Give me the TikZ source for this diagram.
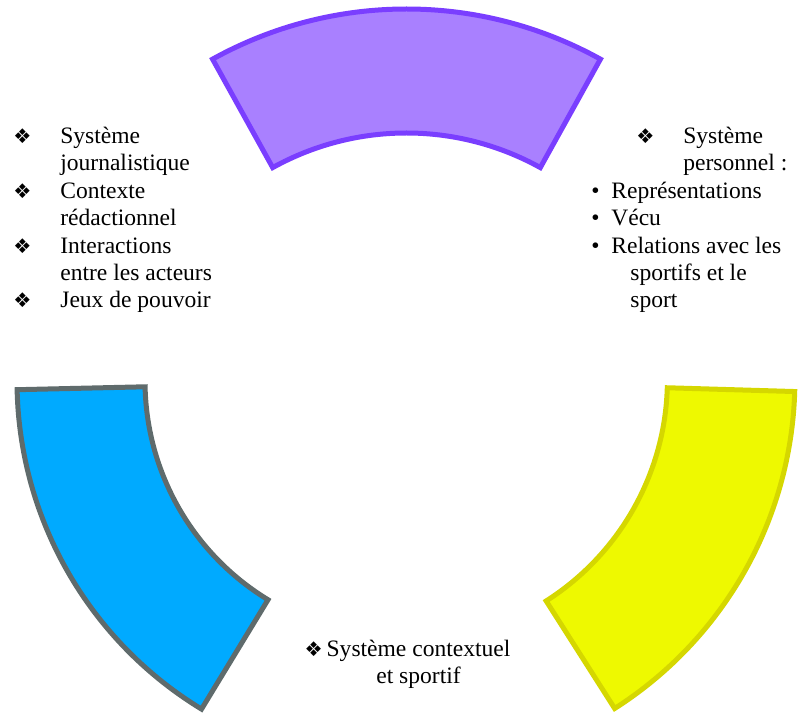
\documentclass[tikz,border=0pt]{standalone}
\usepackage{fontspec}
\setmainfont{Liberation Serif}
\newfontfamily\dingfont{DejaVu Sans}
\usetikzlibrary{positioning}
\definecolor{lilacfill}{HTML}{A980FF}
\definecolor{lilacline}{HTML}{7A3EFF}
\definecolor{skyfill}{HTML}{00AAFF}
\definecolor{slateline}{HTML}{5F6B6C}
\definecolor{lemonfill}{HTML}{EEF900}
\definecolor{lemonline}{HTML}{D5D700}
\tikzset{arcpart/.style={line width=0.1cm, miter limit=10}}
\tikzset{txtblock/.style={inner sep=0pt, align=left, font={\fontsize{13.4pt}{15.65pt}\selectfont}}}
\newcommand\dmd{{\dingfont\fontsize{11.5pt}{11.5pt}\selectfont ❖}}
% #2 centre, #3 #4 angles, #5 inner and #6 outer radius
\newcommand\ringpart[6][]{
				\draw[arcpart, #1, shift={(#2)}] (#3:#6) arc[start angle=#3, end angle=#4, radius=#6]
					-- (#4:#5) arc[start angle=#4, end angle=#3, radius=#5] -- cycle;
				}

\begin{document}
\begin{tikzpicture}[x=0.02cm, y=0.02cm]
	\useasboundingbox (0,0) rectangle (798,723);

	\coordinate (ctop) at (406.5,314);
	\coordinate (cleft) at (401,342);
	\coordinate (cright) at (405.4,343);

	\ringpart[fill=lilacfill, draw=lilacline]{ctop}{61}{119}{276}{400}
	\ringpart[fill=skyfill, draw=slateline]{cleft}{181.3}{238.7}{256}{384}
	\ringpart[fill=lemonfill, draw=lemonline]{cright}{-57.5}{-1.7}{262}{389.5}

	% base anchor sits on the last line
	\node[txtblock, anchor=base west] (journ) at (13,415) {%
		\makebox[0.94cm][l]{\dmd}Système\\
		\hspace*{0.94cm}journalistique\\
		\makebox[0.94cm][l]{\dmd}Contexte\\
		\hspace*{0.94cm}rédactionnel\\
		\makebox[0.94cm][l]{\dmd}Interactions\\
		\hspace*{0.94cm}entre les acteurs\\
		\makebox[0.94cm][l]{\dmd}Jeux de pouvoir};

	\node[txtblock, anchor=base west] (perso) at (591,415) {%
		\hspace*{0.9cm}\makebox[0.94cm][l]{\dmd}Système\\
		\hspace*{1.84cm}personnel :\\
		\makebox[0.4cm][l]{•}Représentations\\
		\makebox[0.4cm][l]{•}Vécu\\
		\makebox[0.4cm][l]{•}Relations avec les\\
		\hspace*{0.78cm}sportifs et le\\
		\hspace*{0.78cm}sport};

	\node[txtblock, align=center, anchor=base] (ctxt) at (418.5,39) {%
		\llap{\dmd\,}Système contextuel\\
		et sportif};
\end{tikzpicture}
\end{document}
